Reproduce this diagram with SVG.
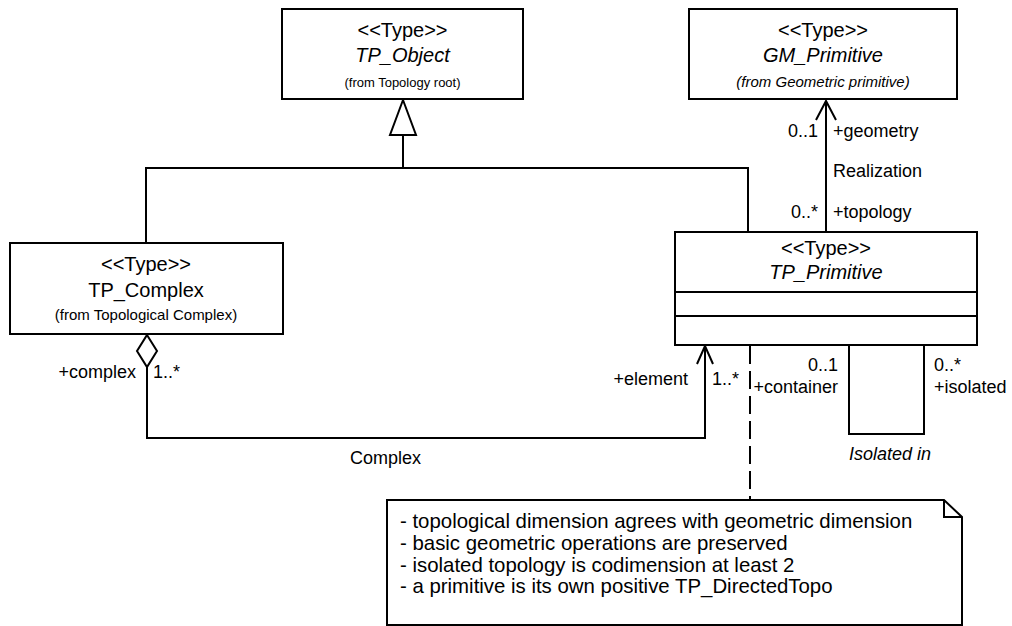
<svg xmlns="http://www.w3.org/2000/svg" width="1012" height="626" viewBox="0 0 1012 626">
  <style>
    text { font-family: "Liberation Sans", Arial, sans-serif; fill: #000; }
    .box { fill: #fff; stroke: #000; stroke-width: 2; }
    .ln { fill: none; stroke: #000; stroke-width: 2; }
    .st { font-size: 20px; text-anchor: middle; }
    .nm { font-size: 20px; text-anchor: middle; }
    .it { font-style: italic; }
    .fr { font-size: 15px; text-anchor: middle; }
    .lb { font-size: 18px; }
    .end { text-anchor: end; }
    .note { font-size: 20.4px; }
  </style>
  <rect width="1012" height="626" fill="#fff"/>

  <g id="connectors">
    <!-- generalization -->
    <path class="ln" d="M146,243 V168 H748 V232"/>
    <path class="ln" d="M403,135 V168"/>
    <polygon class="box" points="403,100 416,135 390,135"/>
    <!-- realization association -->
    <path class="ln" d="M826,232 V101"/>
    <path class="ln" d="M816,120 L826,101 L836,120"/>
    <text class="lb end" x="818" y="137">0..1</text>
    <text class="lb" x="833" y="137">+geometry</text>
    <text class="lb" x="833" y="177">Realization</text>
    <text class="lb end" x="818" y="218">0..*</text>
    <text class="lb" x="833" y="218">+topology</text>
    <!-- Complex aggregation -->
    <path class="ln" d="M147,367 V438 H705 V346"/>
    <polygon class="box" points="147,335 157,351 147,367 137,351"/>
    <path class="ln" d="M697,364 L705,346 L713,364"/>
    <text class="lb end" x="136" y="378">+complex</text>
    <text class="lb" x="153" y="378">1..*</text>
    <text class="lb end" x="688" y="385">+element</text>
    <text class="lb" x="712" y="385">1..*</text>
    <text class="lb" x="350" y="464">Complex</text>
    <!-- Isolated in self association -->
    <path class="ln" d="M849,345 V434 H924 V345"/>
    <text class="lb end" x="838" y="371">0..1</text>
    <text class="lb end" x="838" y="393">+container</text>
    <text class="lb" x="934" y="371">0..*</text>
    <text class="lb" x="934" y="393">+isolated</text>
    <text class="lb it" x="849" y="460">Isolated in</text>
    <!-- note anchor -->
    <path class="ln" d="M750,346 V500" stroke-dasharray="18,7"/>
  </g>

  <g id="TP_Object">
    <rect class="box" x="282" y="9" width="241" height="90"/>
    <text class="st" x="402.5" y="37">&lt;&lt;Type&gt;&gt;</text>
    <text class="nm it" x="402.5" y="62">TP_Object</text>
    <text class="fr" x="402.5" y="87" style="font-size:13px">(from Topology root)</text>
  </g>

  <g id="GM_Primitive">
    <rect class="box" x="689" y="9" width="268" height="90"/>
    <text class="st" x="823" y="37">&lt;&lt;Type&gt;&gt;</text>
    <text class="nm it" x="823" y="62">GM_Primitive</text>
    <text class="fr it" x="823" y="87">(from Geometric primitive)</text>
  </g>

  <g id="TP_Complex">
    <rect class="box" x="10" y="243" width="273" height="91"/>
    <text class="st" x="146" y="271">&lt;&lt;Type&gt;&gt;</text>
    <text class="nm" x="146" y="297">TP_Complex</text>
    <text class="fr" x="146" y="320">(from Topological Complex)</text>
  </g>

  <g id="TP_Primitive">
    <rect class="box" x="675" y="232" width="302" height="113"/>
    <line class="ln" x1="675" y1="292" x2="977" y2="292"/>
    <line class="ln" x1="675" y1="316" x2="977" y2="316"/>
    <text class="st" x="826" y="255">&lt;&lt;Type&gt;&gt;</text>
    <text class="nm it" x="826" y="279">TP_Primitive</text>
  </g>

  <g id="note">
    <path class="box" d="M387,500 H944 L962,517 V625 H387 Z"/>
    <path class="ln" d="M944,500 V517 H962"/>
    <text class="note" x="400" y="528">- topological dimension agrees with geometric dimension</text>
    <text class="note" x="400" y="550">- basic geometric operations are preserved</text>
    <text class="note" x="400" y="571.5">- isolated topology is codimension at least 2</text>
    <text class="note" x="400" y="593">- a primitive is its own positive TP_DirectedTopo</text>
  </g>
</svg>
